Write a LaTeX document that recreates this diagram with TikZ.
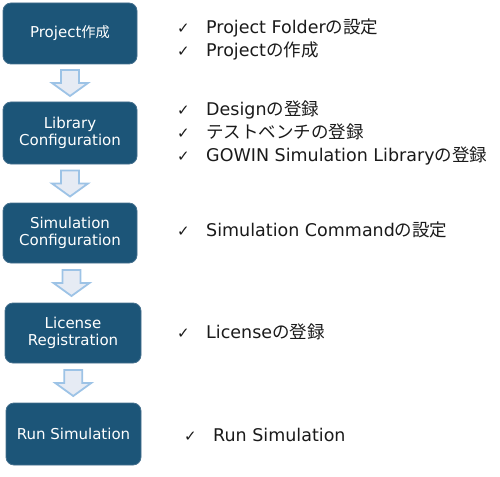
\documentclass[tikz,border=0pt]{standalone}
\usepackage{fontspec}
\setmainfont{DejaVu Sans}
\newfontfamily\cjk{Noto Sans CJK JP}
\newfontfamily\cjks[Scale=0.95]{Noto Sans CJK JP}
\usetikzlibrary{calc}
\definecolor{boxblue}{HTML}{1C5578}
\definecolor{boxedge}{HTML}{45708E}
\definecolor{arrline}{HTML}{9DC3E6}
\definecolor{arrfill}{HTML}{E6EBF4}
\definecolor{txt}{HTML}{1A1A1A}
\newcommand\chk{\makebox[29pt][l]{\fontsize{15}{18}\selectfont ✓}}
\newcommand\blkarrow[2]{%
  \path ($(#1.south)!0.5!(#2.north)$) coordinate (m#1);
  \draw[barrow] ($(m#1)+(-9,13)$) -- ++(18,0) -- ++(0,-13) -- ++(9,0)
    -- ++(-18,-13) -- ++(-18,13) -- ++(9,0) -- cycle;}
\begin{document}
\begin{tikzpicture}[x=1pt,y=1pt,
  stepbox/.style={draw=boxedge, line width=0.8pt, fill=boxblue, rounded corners=8pt,
    text=white, font=\fontsize{15}{17}\selectfont, align=center, inner sep=0pt},
  barrow/.style={draw=arrline, line width=1.8pt, fill=arrfill, line join=miter},
  item/.style={anchor=base west, inner sep=0pt, text=txt, font=\fontsize{17.5}{20}\selectfont}]
\useasboundingbox (0,0) rectangle (500,-476);
\node[stepbox, minimum width=134pt, minimum height=61pt] (b1) at (70,-33.5) {Project{\cjks 作成}};
\node[stepbox, minimum width=134pt, minimum height=62pt] (b2) at (70,-133) {Library\\Configuration};
\node[stepbox, minimum width=134pt, minimum height=60pt] (b3) at (70,-233) {Simulation\\Configuration};
\node[stepbox, minimum width=136pt, minimum height=60pt] (b4) at (73,-333) {License\\Registration};
\node[stepbox, minimum width=135pt, minimum height=62pt] (b5) at (73.5,-434) {Run Simulation};
\blkarrow{b1}{b2}
\blkarrow{b2}{b3}
\blkarrow{b3}{b4}
\blkarrow{b4}{b5}
\node[item] (t1) at (177,-34) {\chk Project Folder{\cjk の設定}};
\node[item] (t2) at (177,-57) {\chk Project{\cjk の作成}};
\node[item] (t3) at (177,-116) {\chk Design{\cjk の登録}};
\node[item] (t4) at (177,-139) {\chk {\cjk テストベンチの登録}};
\node[item] (t5) at (177,-161) {\chk GOWIN Simulation Library{\cjk の登録}};
\node[item] (t6) at (177,-236) {\chk Simulation Command{\cjk の設定}};
\node[item] (t7) at (177,-338) {\chk License{\cjk の登録}};
\node[item] (t8) at (184,-441) {\chk Run Simulation};
\end{tikzpicture}
\end{document}
